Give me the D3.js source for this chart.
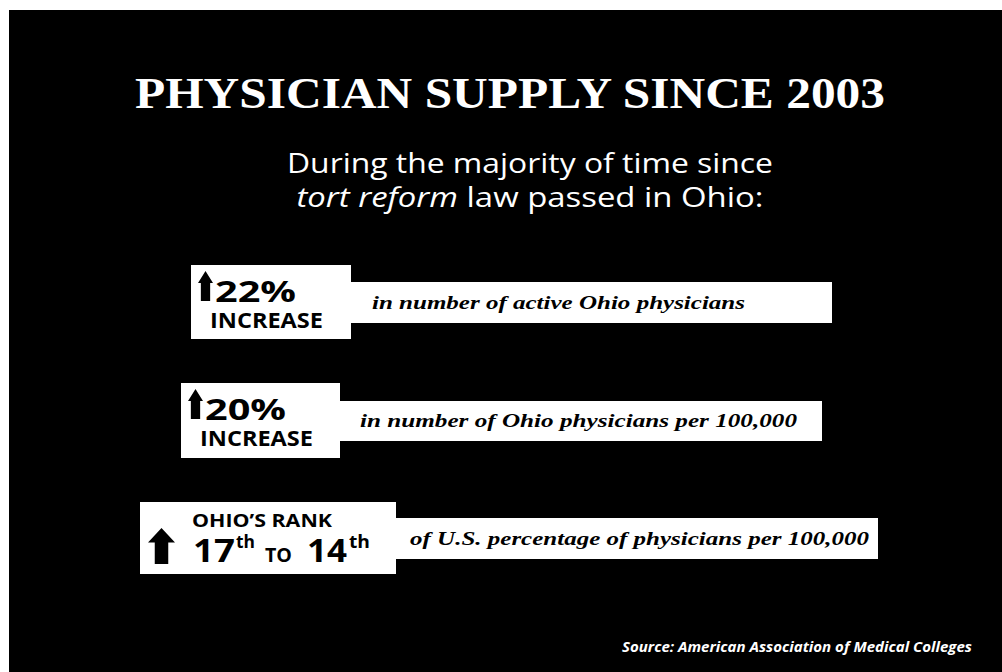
<!DOCTYPE html>
<html><head><meta charset="utf-8">
<script src="https://cdn.jsdelivr.net/npm/d3@7"></script>
<style>body{margin:0;background:#fff}svg{display:block}</style>
</head><body>
<svg id="c" width="1002" height="672"></svg>
<script>
const titleText = "PHYSICIAN SUPPLY SINCE 2003";
const subtitleLines = ["During the majority of time since", "law passed in Ohio:"];
const subtitleItalic = "tort reform";
const increases = [22, 20];
const increaseLabel = "INCREASE";
const descriptions = [
  "in number of active Ohio physicians",
  "in number of Ohio physicians per 100,000",
  "of U.S. percentage of physicians per 100,000"
];
const rankLabel = "OHIO\u2019S RANK";
const ranks = [17, 14];
const rankJoin = "TO";
const ordinalSuffix = "th";
const sourceText = "Source: American Association of Medical Colleges";

const svg = d3.select("#c");
svg.append("rect").attr("x", 9).attr("y", 10).attr("width", 993).attr("height", 662).attr("fill", "#000");

const sans = "'Open Sans','Noto Sans',sans-serif";
const serif = "'Liberation Serif','DejaVu Serif',serif";

svg.append("text").attr("x", 510).attr("y", 108).attr("text-anchor", "middle")
  .attr("fill", "#fff").attr("font-family", serif).attr("font-weight", "bold")
  .attr("font-size", 45).attr("textLength", 750).attr("lengthAdjust", "spacingAndGlyphs")
  .text(titleText);

svg.append("text").attr("x", 530).attr("y", 173).attr("text-anchor", "middle")
  .attr("fill", "#fff").attr("font-family", sans).attr("font-size", 27)
  .attr("textLength", 486).attr("lengthAdjust", "spacingAndGlyphs")
  .text(subtitleLines[0]);
const l2 = svg.append("text").attr("x", 530).attr("y", 207).attr("text-anchor", "middle")
  .attr("fill", "#fff").attr("font-family", sans).attr("font-size", 27)
  .attr("textLength", 467).attr("lengthAdjust", "spacingAndGlyphs");
l2.append("tspan").attr("font-style", "italic").text(subtitleItalic + " ");
l2.append("tspan").text(subtitleLines[1]);

// row layout
const rows = [
  {box:[191,265,160,74], bar:[351,282,481,41], desc:descriptions[0], dx:372, dw:373},
  {box:[181,383,159,75], bar:[340,401,482,40], desc:descriptions[1], dx:360, dw:437},
  {box:[140,502,256,72], bar:[396,518,482,41], desc:descriptions[2], dx:410, dw:459}
];

const g = svg.selectAll("g.row").data(rows).join("g").attr("class", "row");
g.append("rect").attr("x", d => d.bar[0]).attr("y", d => d.bar[1])
  .attr("width", d => d.bar[2]).attr("height", d => d.bar[3]).attr("fill", "#fff");
g.append("rect").attr("x", d => d.box[0]).attr("y", d => d.box[1])
  .attr("width", d => d.box[2]).attr("height", d => d.box[3]).attr("fill", "#fff");
g.append("text").attr("x", d => d.dx).attr("y", d => d.bar[1] + d.bar[3] / 2 + 6)
  .attr("fill", "#000").attr("font-family", serif).attr("font-weight", "bold")
  .attr("font-style", "italic").attr("font-size", 19)
  .attr("textLength", d => d.dw).attr("lengthAdjust", "spacingAndGlyphs")
  .text(d => d.desc);

function arrow(x, y, w, h, ratio) {
  const sw = w * ratio, hh = h * 0.4;
  const cx = x + w / 2;
  return `M${cx},${y} L${x + w},${y + hh} L${cx + sw / 2},${y + hh} L${cx + sw / 2},${y + h} L${cx - sw / 2},${y + h} L${cx - sw / 2},${y + hh} L${x},${y + hh} Z`;
}

// increase boxes
increases.forEach((v, i) => {
  const r = rows[i];
  const bx = r.box[0], by = r.box[1];
  svg.append("path").attr("d", arrow(bx + 7, by + 6, 15, 30, 0.62)).attr("fill", "#000");
  svg.append("text").attr("x", bx + 24).attr("y", by + 37)
    .attr("font-family", sans).attr("font-weight", "bold").attr("font-size", 29)
    .attr("textLength", 81).attr("lengthAdjust", "spacingAndGlyphs")
    .text(v + "%");
  svg.append("text").attr("x", bx + 19).attr("y", by + 63)
    .attr("font-family", sans).attr("font-weight", "bold").attr("font-size", 22)
    .attr("textLength", 113).attr("lengthAdjust", "spacingAndGlyphs")
    .text(increaseLabel);
});

// rank box
{
  const r = rows[2];
  const bx = r.box[0], by = r.box[1];
  svg.append("path").attr("d", arrow(bx + 8, by + 26, 27, 36, 0.5)).attr("fill", "#000");
  svg.append("text").attr("x", bx + 52).attr("y", by + 25)
    .attr("font-family", sans).attr("font-weight", "bold").attr("font-size", 17)
    .attr("textLength", 140).attr("lengthAdjust", "spacingAndGlyphs")
    .text(rankLabel);
  const base = by + 60;
  const parts = [
    {t: String(ranks[0]), x: bx + 53, y: base, s: 32, w: 42},
    {t: ordinalSuffix, x: bx + 96, y: base - 14, s: 17, w: 19},
    {t: rankJoin, x: bx + 125, y: base, s: 19, w: 27},
    {t: String(ranks[1]), x: bx + 167, y: base, s: 32, w: 40},
    {t: ordinalSuffix, x: bx + 209, y: base - 14, s: 17, w: 21}
  ];
  svg.selectAll("text.rank").data(parts).join("text").attr("class", "rank")
    .attr("x", d => d.x).attr("y", d => d.y)
    .attr("font-family", sans).attr("font-weight", "bold").attr("font-size", d => d.s)
    .attr("textLength", d => d.w).attr("lengthAdjust", "spacingAndGlyphs")
    .text(d => d.t);
}

svg.append("text").attr("x", 972).attr("y", 652).attr("text-anchor", "end")
  .attr("fill", "#fff").attr("font-family", sans).attr("font-weight", "bold")
  .attr("font-style", "italic").attr("font-size", 14)
  .attr("textLength", 350).attr("lengthAdjust", "spacingAndGlyphs")
  .text(sourceText);
</script>
</body></html>
